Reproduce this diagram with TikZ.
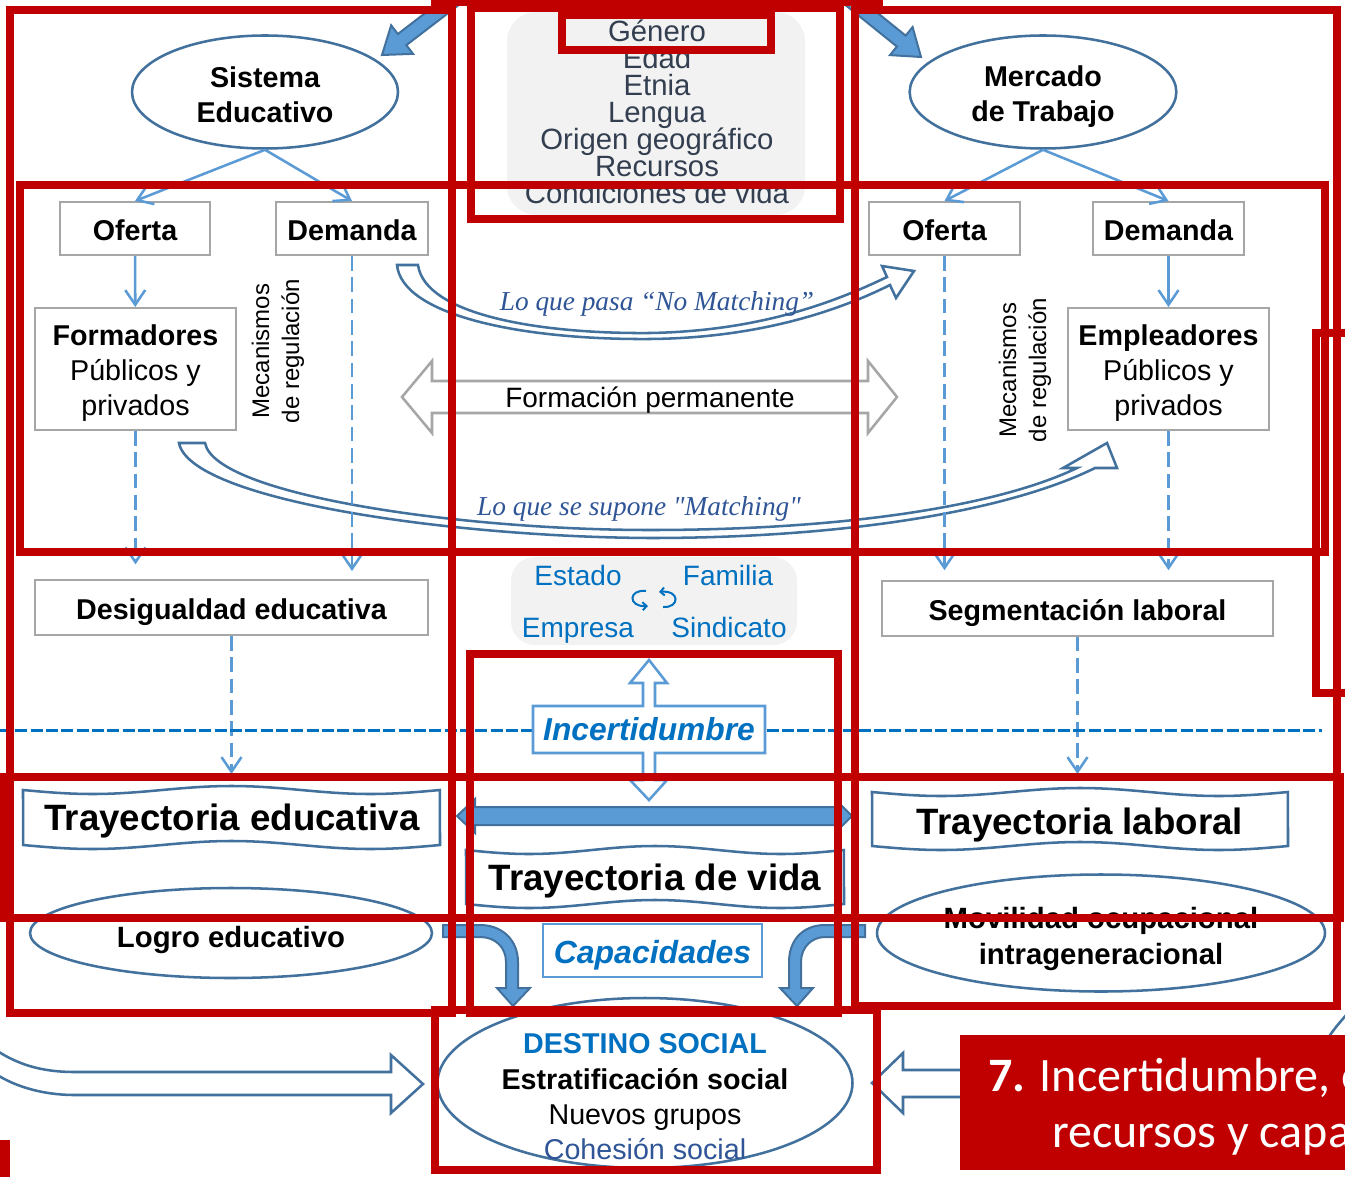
\documentclass[tikz,border=0pt]{standalone}
\usepackage{fontspec}
\setmainfont{Liberation Sans}
\newfontfamily\garafont{Liberation Serif}
\newfontfamily\califont{Carlito}
\usetikzlibrary{shapes.geometric,arrows.meta,calc}

\definecolor{lblue}{RGB}{91,155,213}
\definecolor{dblue}{RGB}{65,113,156}
\definecolor{hred}{RGB}{192,0,0}
\definecolor{bgray}{RGB}{166,166,166}
\definecolor{tblue}{RGB}{0,112,192}
\definecolor{slate}{RGB}{51,63,80}
\definecolor{iblue}{RGB}{47,85,151}
\definecolor{lfill}{RGB}{242,242,242}

\newcommand\fs[2]{\fontsize{#1}{#2}\selectfont}
\newcommand\tightlines{\lineskiplimit=-100pt\relax\lineskip=0pt\relax}
\newcommand\solidblock[5]{%
  \coordinate (hb) at ($(#2)!#5!(#1)$);
  \path[solidarrow] ($(#1)!#3!90:(hb)$) -- ($(hb)!#3!-90:(#1)$) -- ($(hb)!#4!-90:(#1)$) -- (#2) -- ($(hb)!#4!90:(#1)$) -- ($(hb)!#3!90:(#1)$) -- ($(#1)!#3!-90:(hb)$) -- cycle;}
\newcommand\wavebanner[4]{%
  \path[banner] plot[domain=0:1,samples=41,smooth] ({#1+\x*(#3-#1)},{#2+4*sin(540*\x)}) -- plot[domain=1:0,samples=41,smooth] ({#1+\x*(#3-#1)},{#4+4*sin(540*\x)}) -- cycle;}

\begin{document}
\begin{tikzpicture}[x=0.75pt,y=-0.75pt,
  box/.style={draw=bgray,line width=1.5pt,fill=white,minimum height=39.75pt,inner sep=0pt,text height=18pt,text depth=0pt,font=\fs{21.5}{26}\bfseries},
  ell/.style={ellipse,draw=dblue,line width=1.9pt,fill=white,inner sep=0pt,align=center},
  lbl/.style={inner sep=0pt,align=center},
  conn/.style={lblue,line width=1.9pt,-{Straight Barb[length=11pt,width=15pt]}},
  dconn/.style={conn,dash pattern=on 11pt off 5pt},
  hl/.style={draw=hred,line width=5.6pt},
  hollow/.style={draw=dblue,line width=1.9pt,fill=white,line join=miter},
  solidarrow/.style={draw=dblue,line width=1.5pt,fill=lblue,line join=miter},
  banner/.style={draw=dblue,line width=1.9pt,fill=white},
  callout/.style={draw=lblue,line width=1.9pt,fill=white,line join=miter}
]
\useasboundingbox (0,0) rectangle (1345,1177);
\fill[white] (0,0) rectangle (1345,1177);

% top grey box with attributes
\node[fill=lfill,rounded corners=22pt,minimum width=223.5pt,minimum height=152.25pt,inner sep=0pt] (genbox) at (656,113.5) {};
\node[lbl,text=slate,font={\fs{22}{20.2}\tightlines}] (genlist) at (657,112) {Género\\Edad\\Etnia\\Lengua\\Origen geográfico\\Recursos\\Condiciones de vida};

% top block arrows
\coordinate (taLs) at (472,-14); \coordinate (taLe) at (382,55);
\coordinate (taRs) at (833,-14); \coordinate (taRe) at (921,57);
\solidblock{taLs}{taLe}{5.25pt}{13.5pt}{19pt}
\solidblock{taRs}{taRe}{5.25pt}{13.5pt}{19pt}

% top ellipses
\node[ell,minimum width=199.5pt,minimum height=84.75pt] (sisE) at (265,92) {};
\node[lbl,font=\fs{21.5}{26}\bfseries] (sisEt) at (265,94.5) {Sistema\\Educativo};
\node[ell,minimum width=200pt,minimum height=84.75pt] (merT) at (1043,92) {};
\node[lbl,font=\fs{21.5}{26}\bfseries] (merTt) at (1043,96.5) {Mercado\\de Trabajo};

% boxes
\node[box,minimum width=112.5pt] (ofL) at (135,228.5) {Oferta};
\node[box,minimum width=114pt] (deL) at (352,228.5) {Demanda};
\node[box,minimum width=150.75pt,minimum height=91.5pt] (forL) at (135.5,369) {};
\node[lbl,font=\fs{21.5}{26}] (forLt) at (135.5,373) {\textbf{Formadores}\\Públicos y\\privados};
\node[box,minimum width=113.25pt] (ofR) at (944.5,228.5) {Oferta};
\node[box,minimum width=113.25pt] (deR) at (1168.5,228.5) {Demanda};
\node[box,minimum width=150.75pt,minimum height=91.5pt] (emp) at (1168.5,369) {};
\node[lbl,font=\fs{21.5}{26}] (empt) at (1168.5,373) {\textbf{Empleadores}\\Públicos y\\privados};
\node[box,minimum width=294.75pt,minimum height=41.25pt] (des) at (231.5,607.5) {Desigualdad educativa};
\node[box,minimum width=293.25pt,minimum height=41.25pt] (seg) at (1077.5,608) {Segmentación laboral};

% regulation labels
\node[lbl,rotate=90,font=\fs{18}{22.5}] (mecL) at (278,351) {Mecanismos\\de regulación};
\node[lbl,rotate=90,font=\fs{18}{22.5}] (mecR) at (1025,370) {Mecanismos\\de regulación};

% Formacion permanente double arrow
\path[draw=bgray,line width=1.9pt,fill=white,line join=miter] (402,397) -- (432,361) -- (432,381) -- (868,381) -- (868,361) -- (897,397) -- (868,433) -- (868,413) -- (432,413) -- (432,433) -- cycle;
\node[lbl,font=\fs{21}{25}] (formp) at (650,400) {Formación permanente};

% No matching curved arrow
\path[hollow] (397,265) -- (418,265) .. controls (425,315) and (540,334) .. (650,333) .. controls (760,331) and (835,302) .. (887,277) -- (882,266) -- (914,271) -- (896,298) -- (890,285) .. controls (840,310) and (760,338) .. (650,339) .. controls (520,340) and (402,315) .. (397,265) -- cycle;
% Matching curved arrow
\path[hollow] (179,443) -- (205,443) .. controls (215,495) and (460,530) .. (650,530) .. controls (850,530) and (1000,505) .. (1077,468) -- (1063,468) -- (1107,443) -- (1117,468) -- (1095,468) .. controls (1010,510) and (850,538) .. (650,538) .. controls (450,537) and (190,500) .. (179,443) -- cycle;
\node[lbl,text=iblue,font=\garafont\itshape\fs{20.5}{24}] (nomatch) at (657,304) {Lo que pasa “No Matching”};
\node[lbl,text=iblue,font=\garafont\itshape\fs{20.5}{24}] (match) at (639,509) {Lo que se supone "Matching"};

% connectors
\draw[conn] (sisE.south) -- (ofL.north);
\draw[conn] (sisE.south) -- (deL.north);
\draw[conn] (merT.south) -- (ofR.north);
\draw[conn] (merT.south) -- (deR.north);
\draw[conn] (ofL) -- (forL);
\draw[conn] (deR) -- (emp);
\draw[dconn,shorten >=6pt] (deL.south) -- (deL.south |- des.north);
\draw[dconn,shorten >=11pt] (forL.south) -- (forL.south |- des.north);
\draw[dconn,shorten >=7pt] (ofR.south) -- (ofR.south |- seg.north);
\draw[dconn,shorten >=7pt] (emp.south) -- (emp.south |- seg.north);
\coordinate (trEtop) at (232,774);
\coordinate (trLtop) at (1078,774);
\draw[dconn] (des.south) -- (des.south |- trEtop);
\draw[dconn] (seg.south) -- (seg.south |- trLtop);

% actors box
\node[fill=lfill,rounded corners=18pt,minimum width=214.5pt,minimum height=66pt,inner sep=0pt] (actbox) at (654,601) {};
\node[text=tblue,font=\fs{21}{25},anchor=base,inner sep=0pt] (estado) at (578,585) {Estado};
\node[text=tblue,font=\fs{21}{25},anchor=base,inner sep=0pt] (familia) at (728,585) {Familia};
\node[text=tblue,font=\fs{21}{25},anchor=base,inner sep=0pt] (empresa) at (578,637) {Empresa};
\node[text=tblue,font=\fs{21}{25},anchor=base,inner sep=0pt] (sindicato) at (729,637) {Sindicato};
\draw[tblue,line width=1.5pt,-{Straight Barb[length=3pt,width=6pt]}] (646,591) .. controls (628,589) and (628,607) .. (648,606);
\draw[tblue,line width=1.5pt,-{Straight Barb[length=3pt,width=6pt]}] (663,607) .. controls (680,608) and (680,590) .. (659,592);

% dashed separator
\coordinate (dlA) at (0,730); \coordinate (dlB) at (1322,730);
\draw[tblue,line width=2.25pt,dash pattern=on 9pt off 2.5pt] (dlA) -- (dlB);

% Incertidumbre callout
\path[callout] (533,706) -- (643,706) -- (643,683) -- (630,683) -- (649,660) -- (667,683) -- (655,683) -- (655,706) -- (765,706) -- (765,753) -- (655,753) -- (655,780) -- (667,780) -- (649,800) -- (630,780) -- (643,780) -- (643,753) -- (533,753) -- cycle;
\node[lbl,text=tblue,font=\fs{23.8}{28}\bfseries\itshape] (incert) at (649,729) {Incertidumbre};

% banners
\wavebanner{23}{790}{440}{845}
\node[lbl,font=\fs{27.5}{32}\bfseries] (trE) at (232,821.5) {Trayectoria educativa};
\wavebanner{872}{792}{1288}{846}
\node[lbl,font=\fs{27.5}{32}\bfseries] (trL) at (1080,825) {Trayectoria laboral};
\wavebanner{466}{850}{844}{904}
\node[lbl,font=\fs{27.5}{32}\bfseries] (trV) at (655,881.5) {Trayectoria de vida};

% double block arrow between trajectories
\path[solidarrow] (457,816) -- (475,799) -- (475,807) -- (835,807) -- (835,799) -- (852,816) -- (835,833) -- (835,825) -- (475,825) -- (475,833) -- cycle;

% bottom ellipses
\node[ell,minimum width=301.5pt,minimum height=67.5pt] (logro) at (231,933) {};
\node[lbl,font=\fs{22}{26}\bfseries] (logrot) at (231,939.5) {Logro educativo};
\node[ell,minimum width=336pt,minimum height=87.75pt] (movil) at (1101,933) {};
\node[lbl,font=\fs{22}{26.5}\bfseries] (movilt) at (1101,939) {Movilidad ocupacional\\intrageneracional};

\node[draw=lblue,line width=1.9pt,fill=white,minimum width=164.25pt,minimum height=39.75pt,inner sep=0pt,text height=19pt,text depth=0pt,text=tblue,font=\fs{24}{28}\bfseries\itshape] (capac) at (652.5,950.5) {Capacidades};

% bent arrows
\path[solidarrow] (443,925) -- (480,925) .. controls (502,925) and (518,940) .. (518,962) -- (518,988) -- (530,988) -- (513,1006) -- (497,988) -- (506,988) -- (506,962) .. controls (506,947) and (495,937) .. (480,937) -- (443,937) -- cycle;
\path[solidarrow] (865,925) -- (825,925) .. controls (803,925) and (789,940) .. (789,962) -- (789,988) -- (780,988) -- (797,1006) -- (813,988) -- (801,988) -- (801,962) .. controls (801,947) and (812,937) .. (825,937) -- (865,937) -- cycle;

% destino
\node[ell,minimum width=311.25pt,minimum height=127.5pt] (dest) at (645,1083) {};
\node[lbl,font=\fs{21.5}{26.5}] (desttxt) at (645,1097) {\textcolor{tblue}{\bfseries DESTINO SOCIAL}\\\textbf{Estratificación social}\\Nuevos grupos\\\textcolor{iblue}{Cohesión social}};

% bottom hollow arrows
\path[hollow] (-10,1046) .. controls (15,1064) and (40,1072) .. (75,1072) -- (391,1072) -- (391,1055) -- (423,1084) -- (391,1113) -- (391,1095) -- (75,1095) .. controls (40,1095) and (10,1085) .. (-10,1070) -- cycle;
\path[hollow] (990,1070) -- (903,1070) -- (903,1053) -- (872,1083) -- (903,1113) -- (903,1097) -- (990,1097) -- cycle;
\coordinate (scA) at (1328,1038); \coordinate (scB) at (1347,1014);
\draw[dblue,line width=1.9pt] (scA) .. controls (1335,1028) .. (scB);

% title box
\node[fill=hred,minimum width=300pt,minimum height=101.25pt,anchor=north west,inner sep=0pt] (titlebox) at (960,1035) {};
\node[anchor=base west,text=white,font=\califont\fs{36}{40},inner sep=0pt] (title1) at (988,1091) {\textbf{7.} Incertidumbre, e};
\node[anchor=base west,text=white,font=\califont\fs{36}{40},inner sep=0pt] (title2) at (1052,1147) {recursos y capa};

% red highlight rectangles
\draw[hl] (435,-50) rectangle (879,2);
\draw[hl] (10,10) rectangle (452,1013);
\draw[hl] (855,10) rectangle (1337,1006);
\draw[hl] (471,8) rectangle (840,219);
\draw[hl] (562,15) rectangle (771,50);
\draw[hl] (20,185) rectangle (1325,552);
\draw[hl] (1316,333) rectangle (1400,693);
\draw[hl] (470,654) rectangle (838,1013);
\draw[hl] (3,777) rectangle (1340,918);
\draw[hl] (435,1010) rectangle (877,1170);
\fill[hred] (0,1140) rectangle (10,1180);
\end{tikzpicture}
\end{document}
